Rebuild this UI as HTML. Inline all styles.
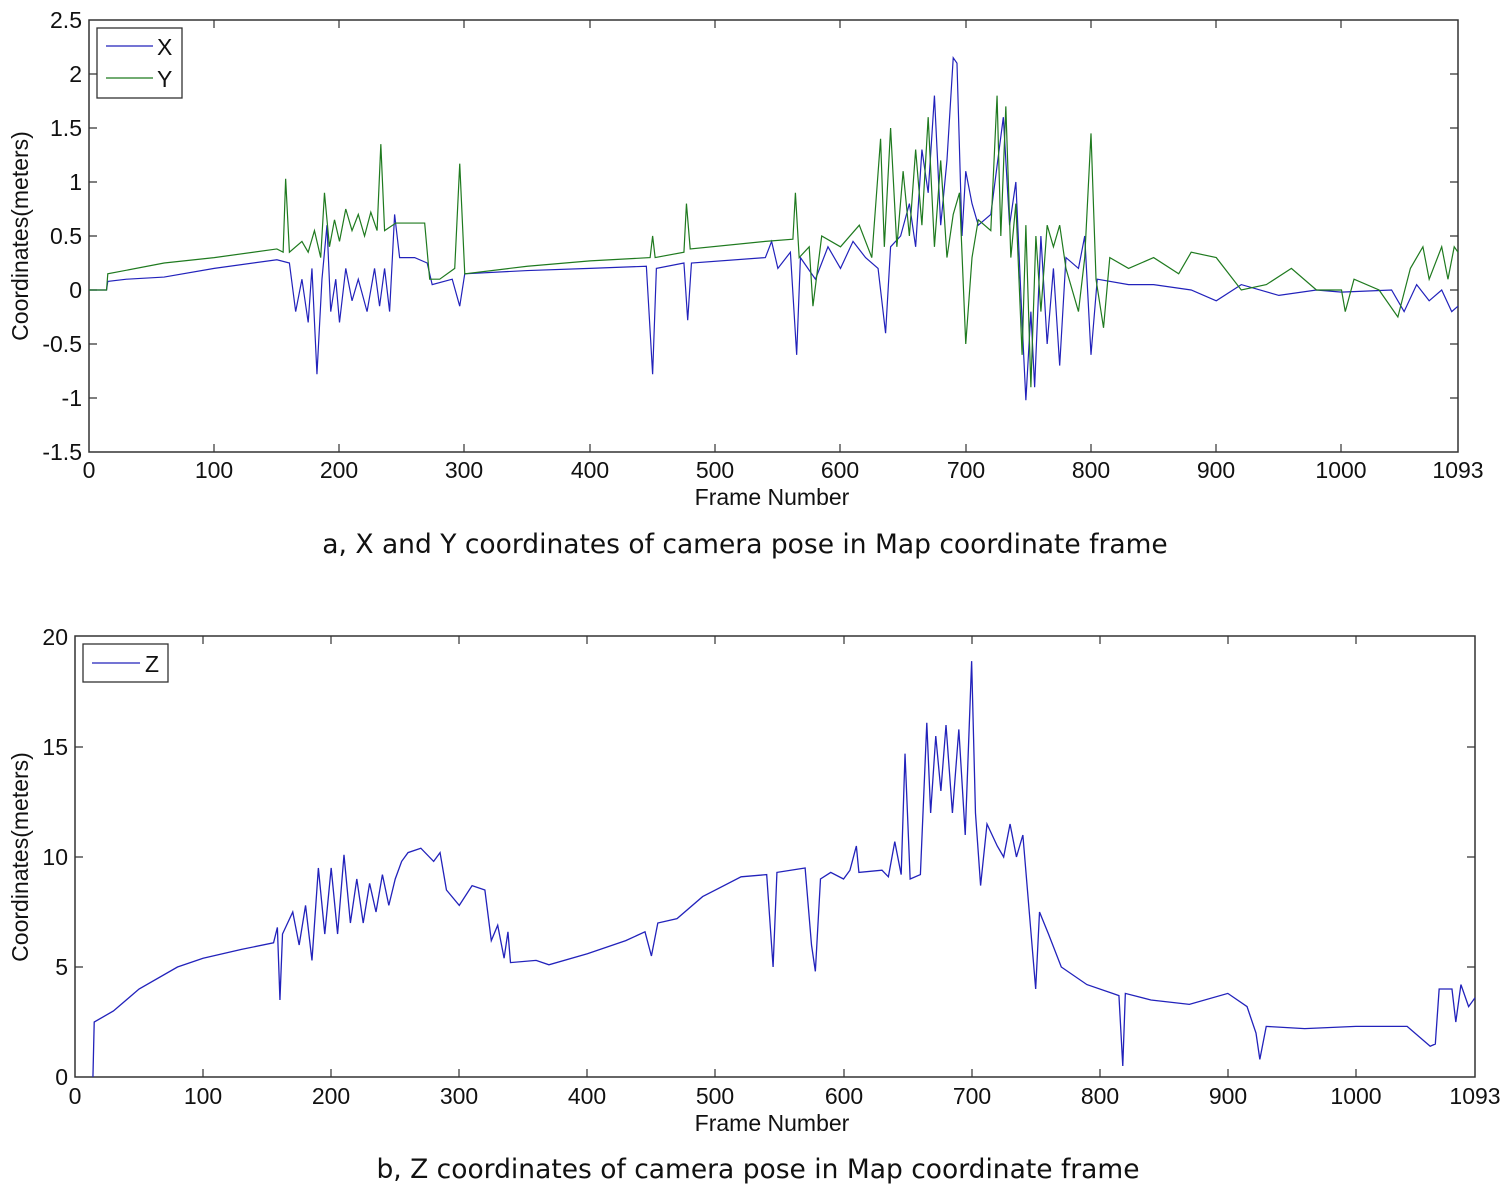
<!DOCTYPE html>
<html><head><meta charset="utf-8"><style>
body{margin:0;background:#fff}
svg{display:block;font-family:"Liberation Sans",Arial,sans-serif}
.t{font-size:23px;fill:#111}
.c{font-size:26.5px;fill:#111;font-family:"DejaVu Sans","Liberation Sans",sans-serif}
</style></head><body>
<svg width="1504" height="1186" viewBox="0 0 1504 1186">
<rect width="1504" height="1186" fill="#fff"/>
<g stroke="#333" stroke-width="1.5" fill="none">
<rect x="89" y="20" width="1369" height="432"/>
</g>
<g stroke="#333" stroke-width="1.2">
<path d="M214,452v-8M339,452v-8M464,452v-8M590,452v-8M715,452v-8M840,452v-8M966,452v-8M1091,452v-8M1216,452v-8M1341,452v-8
M214,20v8M339,20v8M464,20v8M590,20v8M715,20v8M840,20v8M966,20v8M1091,20v8M1216,20v8M1341,20v8
M89,74h8M89,128h8M89,182h8M89,236h8M89,290h8M89,344h8M89,398h8
M1458,74h-8M1458,128h-8M1458,182h-8M1458,236h-8M1458,290h-8M1458,344h-8M1458,398h-8"/>
</g>
<g class="t" text-anchor="end">
<text x="82" y="28">2.5</text><text x="82" y="82">2</text><text x="82" y="136">1.5</text><text x="82" y="190">1</text><text x="82" y="244">0.5</text><text x="82" y="298">0</text><text x="82" y="352">-0.5</text><text x="82" y="406">-1</text><text x="82" y="460">-1.5</text>
</g>
<g class="t" text-anchor="middle">
<text x="89" y="478">0</text><text x="214" y="478">100</text><text x="339" y="478">200</text><text x="464" y="478">300</text><text x="590" y="478">400</text><text x="715" y="478">500</text><text x="840" y="478">600</text><text x="966" y="478">700</text><text x="1091" y="478">800</text><text x="1216" y="478">900</text><text x="1341" y="478">1000</text><text x="1458" y="478">1093</text>
<text x="772" y="505">Frame Number</text>
<text x="28" y="236" transform="rotate(-90 28 236)">Coordinates(meters)</text>
</g>
<text class="c" x="745" y="553" text-anchor="middle">a, X and  Y coordinates of camera pose in Map coordinate frame</text>
<g transform="translate(89,290) scale(1.2525,-108)" fill="none" stroke-width="1.2">
<polyline vector-effect="non-scaling-stroke" stroke="#2222bb" points="0,0 14,0 15,0.08 30,0.1 60,0.12 100,0.2 150,0.28 160,0.25 165,-0.2 170,0.1 175,-0.3 178,0.2 182,-0.78 186,0.1 190,0.6 193,-0.2 197,0.1 200,-0.3 205,0.2 210,-0.1 215,0.1 222,-0.2 228,0.2 232,-0.15 236,0.2 240,-0.2 244,0.7 248,0.3 260,0.3 270,0.25 274,0.05 290,0.1 296,-0.15 300,0.15 350,0.18 400,0.2 445,0.22 450,-0.78 453,0.2 475,0.25 478,-0.28 481,0.25 540,0.3 545,0.45 550,0.2 560,0.35 565,-0.6 568,0.3 580,0.1 590,0.4 600,0.2 610,0.45 620,0.3 630,0.2 636,-0.4 640,0.4 648,0.5 655,0.8 660,0.4 665,1.3 670,0.9 675,1.8 680,0.6 685,1.2 690,2.15 693,2.1 697,0.5 700,1.1 705,0.8 710,0.6 720,0.7 730,1.6 735,0.6 740,1.0 745,-0.3 748,-1.02 752,-0.2 755,-0.9 760,0.5 765,-0.5 770,0.2 775,-0.7 780,0.3 790,0.2 795,0.5 800,-0.6 805,0.1 830,0.05 850,0.05 880,0 900,-0.1 920,0.05 950,-0.05 980,0 1000,-0.02 1040,0 1050,-0.2 1060,0.05 1070,-0.1 1080,0 1088,-0.2 1093,-0.15"/>
<polyline vector-effect="non-scaling-stroke" stroke="#1f7a1f" points="0,0 14,0 15,0.15 60,0.25 100,0.3 150,0.38 155,0.35 157,1.03 160,0.35 170,0.45 175,0.35 180,0.55 185,0.3 188,0.9 192,0.4 196,0.65 200,0.45 205,0.75 210,0.55 215,0.7 220,0.5 225,0.72 230,0.55 233,1.35 236,0.55 245,0.62 268,0.62 272,0.1 280,0.1 292,0.2 296,1.17 300,0.15 350,0.22 400,0.27 448,0.3 450,0.5 452,0.3 475,0.35 477,0.8 480,0.38 540,0.45 562,0.47 564,0.9 567,0.3 575,0.4 578,-0.15 585,0.5 600,0.4 615,0.6 625,0.3 632,1.4 635,0.4 640,1.5 645,0.4 650,1.1 655,0.5 660,1.3 665,0.6 670,1.6 675,0.4 680,1.2 685,0.3 690,0.7 695,0.9 700,-0.5 705,0.3 710,0.65 720,0.55 725,1.8 728,0.5 732,1.7 736,0.3 740,0.8 745,-0.6 748,0.6 752,-0.9 756,0.5 760,-0.2 765,0.6 770,0.4 775,0.6 780,0.2 790,-0.2 795,0.3 800,1.45 804,0.1 810,-0.35 815,0.3 830,0.2 850,0.3 870,0.15 880,0.35 900,0.3 920,0 940,0.05 960,0.2 980,0 1000,0 1003,-0.2 1010,0.1 1030,0 1045,-0.25 1055,0.2 1065,0.4 1070,0.1 1080,0.4 1085,0.1 1090,0.4 1093,0.35"/>
</g>
<rect x="97" y="28" width="85" height="70" fill="#fff" stroke="#333" stroke-width="1.3"/>
<line x1="106" y1="46" x2="153" y2="46" stroke="#2222bb" stroke-width="1.3"/>
<line x1="106" y1="78" x2="153" y2="78" stroke="#1f7a1f" stroke-width="1.3"/>
<text class="t" x="157" y="55">X</text><text class="t" x="157" y="87">Y</text>

<rect x="75" y="636" width="1400" height="441" fill="none" stroke="#333" stroke-width="1.5"/>
<g stroke="#333" stroke-width="1.2">
<path d="M203,1077v-8M331,1077v-8M459,1077v-8M587,1077v-8M715,1077v-8M844,1077v-8M972,1077v-8M1100,1077v-8M1228,1077v-8M1356,1077v-8
M203,636v8M331,636v8M459,636v8M587,636v8M715,636v8M844,636v8M972,636v8M1100,636v8M1228,636v8M1356,636v8
M75,967h8M75,857h8M75,747h8M1475,967h-8M1475,857h-8M1475,747h-8"/>
</g>
<g class="t" text-anchor="end">
<text x="68" y="645">20</text><text x="68" y="755">15</text><text x="68" y="865">10</text><text x="68" y="975">5</text><text x="68" y="1085">0</text>
</g>
<g class="t" text-anchor="middle">
<text x="75" y="1104">0</text><text x="203" y="1104">100</text><text x="331" y="1104">200</text><text x="459" y="1104">300</text><text x="587" y="1104">400</text><text x="715" y="1104">500</text><text x="844" y="1104">600</text><text x="972" y="1104">700</text><text x="1100" y="1104">800</text><text x="1228" y="1104">900</text><text x="1356" y="1104">1000</text><text x="1475" y="1104">1093</text>
<text x="772" y="1131">Frame Number</text>
<text x="28" y="857" transform="rotate(-90 28 857)">Coordinates(meters)</text>
</g>
<text class="c" x="758" y="1178" text-anchor="middle">b, Z coordinates of camera pose in Map coordinate frame</text>
<g transform="translate(75,1077) scale(1.2809,-22)" fill="none">
<polyline vector-effect="non-scaling-stroke" stroke="#2222bb" stroke-width="1.3" points="14,0 15,2.5 30,3 50,4 80,5 100,5.4 130,5.8 155,6.1 158,6.8 160,3.5 162,6.5 170,7.5 175,6 180,7.8 185,5.3 190,9.5 195,6.5 200,9.5 205,6.5 210,10.1 215,7 220,9 225,7 230,8.8 235,7.5 240,9.2 245,7.8 250,9 255,9.8 260,10.2 270,10.4 280,9.8 285,10.2 290,8.5 300,7.8 310,8.7 320,8.5 325,6.2 330,6.9 335,5.4 338,6.6 340,5.2 360,5.3 370,5.1 400,5.6 430,6.2 445,6.6 450,5.5 455,7 470,7.2 490,8.2 520,9.1 540,9.2 545,5 548,9.3 570,9.5 575,6 578,4.8 582,9 590,9.3 600,9 605,9.4 610,10.5 612,9.3 630,9.4 635,9.1 640,10.7 645,9.2 648,14.7 652,9 660,9.2 665,16.1 668,12 672,15.5 676,13 680,16 685,12 690,15.8 695,11 700,18.9 703,12 707,8.7 712,11.5 720,10.5 725,10 730,11.5 735,10 740,11 745,7.5 750,4 753,7.5 760,6.5 770,5 790,4.2 810,3.8 815,3.7 818,0.5 820,3.8 840,3.5 870,3.3 900,3.8 915,3.2 922,2 925,0.8 930,2.3 960,2.2 1000,2.3 1040,2.3 1058,1.4 1062,1.5 1065,4 1075,4 1078,2.5 1082,4.2 1088,3.2 1093,3.6"/>
</g>
<rect x="83" y="644" width="85" height="38" fill="#fff" stroke="#333" stroke-width="1.3"/>
<line x1="92" y1="663" x2="140" y2="663" stroke="#2222bb" stroke-width="1.3"/>
<text class="t" x="145" y="672">Z</text>
</svg>
</body></html>
